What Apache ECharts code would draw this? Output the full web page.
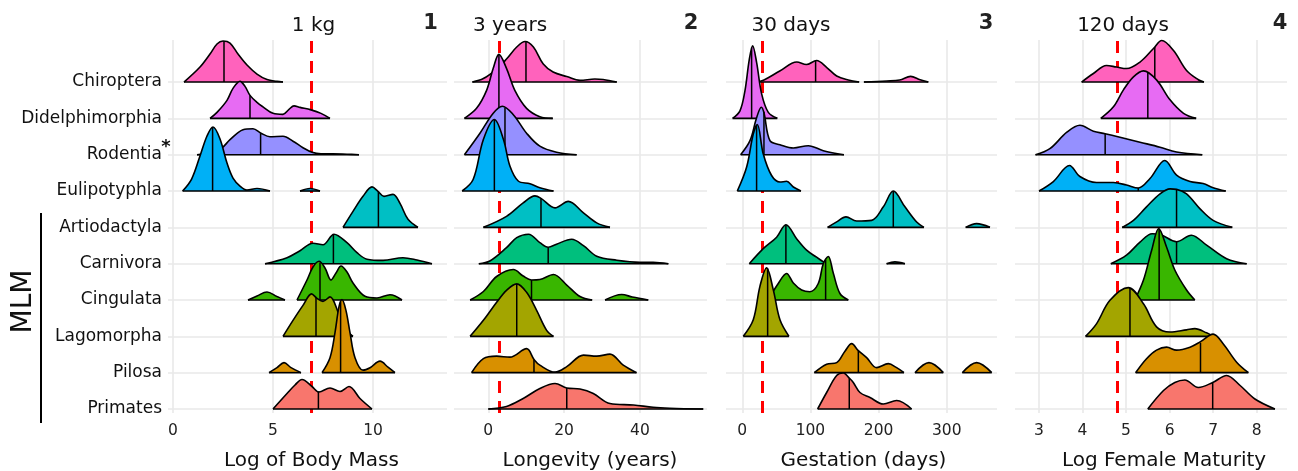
<!DOCTYPE html>
<html><head><meta charset="utf-8">
<script src="https://cdn.jsdelivr.net/npm/echarts@6/dist/echarts.min.js"></script>
<style>html,body{margin:0;padding:0;background:#fff}#c{width:1298px;height:471px}</style>
</head><body><div id="c"></div>
<script>
// ---------- data ----------
const orders = ['Chiroptera','Didelphimorphia','Rodentia','Eulipotyphla','Artiodactyla','Carnivora','Cingulata','Lagomorpha','Pilosa','Primates'];
const orderColors = ['#FF62BC','#E76BF3','#9590FF','#00B0F6','#00BFC4','#00BF7D','#39B600','#A3A500','#D89000','#F8766D'];

const axisTitles = ['Log of Body Mass','Longevity (years)','Gestation (days)','Log Female Maturity'];
const refLabels = ['1 kg','3 years','30 days','120 days'];
const refValues = [6.91, 3, 30, 4.79];
const panelNumbers = ['1','2','3','4'];

const massTicks = [0,5,10];
const lifeTicks = [0,20,40];
const gestTicks = [0,100,200,300];
const matTicks = [3,4,5,6,7,8];

// ridge outlines: [x, density height], null = gap
const massRidges = [
 [[0.55,0],[1.35,15],[1.85,28],[2.2,38],[2.5,41],[2.85,39],[3.25,28],[3.7,17],[4.2,8],[4.7,2.5],[5.2,0.7],[5.5,0]],
 [[1.85,0],[2.2,6],[2.7,18],[3.0,30],[3.35,37],[3.6,32],[3.85,23],[4.2,16],[4.5,11.5],[5.0,5],[5.5,4],[5.8,9],[6.05,12.5],[6.35,11],[6.9,8.5],[7.4,5],[7.85,0]],
 [[1.2,0],[1.8,2],[2.4,6],[2.85,15],[3.5,25],[4.0,26],[4.4,21.5],[4.85,18],[5.5,18.5],[6.0,13.5],[6.5,7],[6.95,2.5],[7.4,1],[8.0,1],[8.7,0.5],[9.3,0]],
 [[0.48,0],[0.93,12],[1.35,35],[1.7,55],[2.0,64],[2.35,52],[2.7,28],[3.0,13],[3.35,5],[3.7,1],[4.2,2.5],[4.85,0],null,[6.35,0],[6.85,2.5],[7.35,0]],
 [[8.5,0],[9.0,16],[9.5,31],[9.95,40.5],[10.25,36],[10.55,31],[11.0,33],[11.35,24],[11.75,8],[12.25,0]],
 [[4.6,0],[5.7,6],[6.35,13],[7.0,20.5],[7.5,19],[8.05,29.5],[8.7,21],[9.2,11],[9.7,4.5],[10.5,3.3],[11.5,6],[12.2,3.7],[12.95,0]],
 [[3.75,0],[4.2,4],[4.7,8],[5.2,3.5],[5.6,0],null,[6.2,0],[6.7,20],[7.0,33],[7.3,38.7],[7.6,32],[7.9,20],[8.15,27],[8.4,34],[8.7,28],[9.0,17],[9.6,3.7],[10.2,2],[10.85,5.3],[11.45,0]],
 [[5.5,0],[6.0,16],[6.5,31],[6.93,42.5],[7.2,38],[7.5,35],[7.85,39.5],[8.3,22],[8.7,6],[9.0,0]],
 [[4.8,0],[5.2,5],[5.55,10],[5.9,5],[6.4,0],null,[7.45,0],[7.85,15],[8.1,40],[8.3,66],[8.45,73],[8.65,62],[8.85,40],[9.1,15],[9.5,2.5],[9.85,5],[10.35,11.5],[10.75,5.5],[11.1,0]],
 [[5.0,0],[5.7,15.5],[6.1,24],[6.45,29.5],[6.95,22.5],[7.3,17],[7.85,21],[8.35,17.5],[8.8,22.5],[9.35,10.5],[9.95,0]]
];
const massMedX = [2.55,3.85,4.38,1.98,10.27,8.02,7.35,7.15,8.38,7.27];
const massMedH = [41,23,21.5,64,36,29.5,37.5,39,71,17.5];

const lifeRidges = [
 [[-4.2,0],[-1.3,3.5],[2.2,13],[4.8,23],[7.5,35],[9.7,40.5],[11.9,35],[14.5,18],[17.1,10],[20.7,5.5],[24.2,1.7],[28.1,3],[30.3,2.5],[33.9,0]],
 [[-6.3,0],[-3.1,10],[-0.45,28],[1.3,50],[2.8,64],[4.8,50],[7.0,28],[10.1,10],[13.6,1.7],[17.0,0]],
 [[-6.3,0],[-2.2,21.5],[1.3,41.5],[3.7,48.5],[6.6,40],[10.1,21.5],[13.6,8.5],[18,2.5],[23.3,0]],
 [[-6.9,0],[-4.0,11.5],[-1.3,51.5],[1.6,71.5],[4.0,51.5],[5.7,25],[7.9,10],[11,7.3],[13.6,3.3],[17.2,0]],
 [[-1.3,0],[4.8,11],[9.2,24.5],[12.3,31.5],[13.9,29],[17.6,19.5],[21.1,26],[25.1,14.5],[28.6,4.5],[32.1,0]],
 [[-2.5,0],[0.4,2.7],[4.8,16],[7.5,26],[10.6,29.5],[13.6,21],[15.8,16.5],[18,19.5],[22,24.5],[25.1,18],[28.6,7.5],[33.9,3.5],[40,1.5],[43.5,1.5],[47.5,0]],
 [[-4.8,0],[-1.3,8.5],[2.2,23.5],[6.6,30.5],[9.2,24],[11.4,20],[13.6,20.5],[17.2,25.5],[20.7,15],[24.2,3.5],[27.4,0],null,[30.8,0],[35.2,5.5],[38,3],[42.2,0]],
 [[-4.8,0],[-1.3,16],[2.2,34],[4.8,46],[7.5,52.5],[10.1,44],[12.75,26],[15.4,6],[17.2,0]],
 [[-4.4,0],[-1.3,14],[2.2,16.5],[5.7,15.5],[10.1,24],[12.1,13],[13.6,7.5],[17.6,0.5],[20.7,6],[25.1,17.5],[28.6,16.5],[32.1,18.5],[35.6,7.5],[39.1,0]],
 [[0,0],[4.8,2.5],[9.2,10.5],[13.6,20.5],[17.6,25.5],[20.7,21],[24.2,20],[27.7,15.5],[32.1,5.5],[38.3,4],[43.5,1.7],[47.9,0.8],[56.7,0]]
];
const lifeMedX = [9.94,2.8,4.4,1.6,13.9,15.8,11.4,7.5,12.05,20.7];
const lifeMedH = [40,64,47,71.5,29,16.5,20,52.5,13,21];

const gestRidges = [
 [[20,0],[31,1.7],[55,11],[80,20],[94,17.5],[109,21.5],[124,14.5],[138.5,6],[155.5,2],[171.5,0],null,[178.5,0],[212,1],[231,2],[247,5.7],[261,2.3],[273,0]],
 [[-14.2,0],[-3.4,7.5],[3.9,27.5],[10.3,59],[15.2,72.5],[21,56],[28.4,24.5],[38.2,6],[51.4,0]],
 [[-2.4,0],[11.3,14],[21,37],[27.9,47.5],[31.8,42],[40.6,14],[55.3,10],[74.9,6.7],[96.9,9],[118.9,4],[149.2,0]],
 [[-7.3,0],[6.4,24],[16.1,57],[22,66.5],[30.8,37],[43,15.5],[55.3,9],[65,9.7],[74.9,4],[86.1,0]],
 [[125.2,0],[138.5,5.5],[152.2,10.5],[167.8,6.3],[189.8,7],[207,20.5],[221.6,36.3],[238.7,20.5],[255.9,5.3],[266.6,0],null,[327.8,0],[343.9,3.7],[363.5,0]],
 [[10.3,0],[30.8,15],[50.4,26.5],[64,39],[79.7,25],[94.4,13.5],[109,6.5],[122.8,0],null,[211.8,0],[224,1.8],[238.7,0]],
 [[38,0],[52.8,16.5],[65,26.5],[74.9,17],[87.1,10],[99.3,8.3],[111.5,16.5],[118.9,36.5],[126.2,43.5],[133.5,27],[143.3,6.5],[155.6,0]],
 [[1.5,0],[16.1,16.5],[25.9,50],[35.7,68.5],[45.5,46.5],[55.3,16.5],[68.5,0]],
 [[105.7,0],[123.8,8.5],[138.5,10],[150.7,21.5],[160.5,29],[170.3,22],[182.5,15],[197.2,5],[214.3,9],[226.5,5],[237.3,0],null,[253.4,0],[274,10],[295,0],null,[322.9,0],[343.9,10],[366,0]],
 [[110.6,0],[123.8,16.5],[138.5,33.5],[148.3,36],[157,31],[162.9,26.5],[172.7,16.5],[187.4,11.5],[207,5],[226.5,8.5],[248.5,0]]
];
const gestMedX = [107.6,13.7,31.8,21,221.6,64,122.3,37.2,170.3,157];
const gestMedH = [21.5,71,43,66,36.3,39,40,68,22,31];

const matRidges = [
 [[3.98,0],[4.25,8.5],[4.55,16.5],[4.78,15],[5.01,13.5],[5.32,20],[5.63,33.5],[5.82,41.5],[6.09,31.5],[6.39,11.5],[6.66,2.3],[6.79,0]],
 [[4.42,0],[4.71,11.5],[4.94,28.5],[5.17,41.5],[5.4,47.5],[5.7,38.5],[6.01,18.5],[6.32,5],[6.61,0]],
 [[2.92,0],[3.25,6],[3.64,22.5],[3.94,29.5],[4.25,23.5],[4.52,21],[4.86,17.5],[5.32,12.5],[5.78,7.5],[6.16,2.7],[6.75,0]],
 [[3.0,0],[3.33,9.5],[3.7,25.5],[3.94,14.5],[4.32,8.5],[4.71,8.5],[5.01,6],[5.28,3],[5.55,12.5],[5.89,30.5],[6.16,16],[6.47,9.5],[6.77,7.5],[7.0,3.3],[7.29,0]],
 [[4.91,0],[5.17,7],[5.47,20.5],[5.78,33.5],[6.01,38.5],[6.16,38],[6.39,33.5],[6.7,18.5],[7.0,7],[7.44,0]],
 [[4.65,0],[5.01,8.5],[5.32,21.5],[5.6,30],[5.8,29],[6.16,22],[6.5,28.5],[6.85,18.5],[7.31,5],[7.77,0]],
 [[5.2,0],[5.4,20],[5.59,50],[5.75,71.5],[5.93,53],[6.12,30],[6.39,10],[6.58,0]],
 [[4.07,0],[4.32,12.5],[4.63,36],[5.05,48.7],[5.4,32.5],[5.7,9.5],[6.01,4.3],[6.39,6.5],[6.58,7.7],[6.85,3.5],[7.0,0]],
 [[5.22,0],[5.47,14],[5.7,22.5],[5.93,25.5],[6.16,22.5],[6.47,25.5],[6.71,31],[7.0,38.5],[7.23,29],[7.54,10.5],[7.81,0]],
 [[5.5,0],[5.86,18.5],[6.12,26.5],[6.35,29],[6.66,21.5],[6.99,26.5],[7.31,33.5],[7.62,23.5],[7.96,10],[8.42,0]]
];
const matMedX = [5.66,5.5,4.52,5.28,6.16,6.16,5.76,5.09,6.71,6.99];
const matMedH = [35,46,21,3,38,22,71,48,30,26.5];

// ---------- layout ----------
const ROW = 36.33;
const FONT = '"DejaVu Sans", sans-serif';
const panelLayout = [
  {left:168, right:447, min:-0.25, max:13.7},
  {left:454, right:707, min:-9.05, max:57.7},
  {left:726, right:997, min:-23.9, max:373.8},
  {left:1015, right:1287, min:2.449, max:8.697}
];
const panelData = [
  {ridges:massRidges, medX:massMedX, medH:massMedH, ticks:massTicks},
  {ridges:lifeRidges, medX:lifeMedX, medH:lifeMedH, ticks:lifeTicks},
  {ridges:gestRidges, medX:gestMedX, medH:gestMedH, ticks:gestTicks},
  {ridges:matRidges, medX:matMedX, medH:matMedH, ticks:matTicks}
];
const titleX = [311.5, 590, 863.5, 1164];
const refLabelX = [313.5, 510, 791, 1123];
const numberX = [430.5, 691, 986, 1280];

const baseOf = i => (orders.length - 1 - i) * ROW;
const bases = orders.map((_, i) => baseOf(i));
const gridColor = '#e9e9e9';

const grids = [], xAxes = [], yAxes = [], series = [];
panelLayout.forEach((L, p) => {
  grids.push({left: L.left, width: L.right - L.left, top: 40, height: 373, outerBoundsMode: 'none'});
  xAxes.push({
    type: 'value', gridIndex: p, min: L.min, max: L.max,
    axisLine: {show: false},
    axisTick: {show: false, customValues: panelData[p].ticks},
    axisLabel: {customValues: panelData[p].ticks, fontSize: 15.5, fontFamily: FONT, color: '#222', margin: 10, lineHeight: 16},
    splitLine: {show: true, lineStyle: {color: gridColor, width: 1.6}}
  });
  yAxes.push({
    type: 'value', gridIndex: p, min: -4, max: 369,
    axisLine: {show: false},
    axisTick: {show: false, customValues: bases},
    axisLabel: p === 0 ? {
      customValues: bases, fontSize: 17, fontFamily: FONT, color: '#111', margin: 6,
      verticalAlign: 'middle', padding: [0, 0, 18, 0],
      formatter: v => orders[Math.round(orders.length - 1 - v / ROW)]
    } : {show: false},
    splitLine: {show: true, lineStyle: {color: gridColor, width: 1.6}}
  });
  // reference dashed line (under ridges)
  series.push({
    type: 'line', xAxisIndex: p, yAxisIndex: p, data: [], z: 5, silent: true,
    markLine: {silent: true, symbol: ['none','none'], label: {show: false}, animation: false,
      lineStyle: {color: '#ff0000', type: [12, 8], width: 3}, data: [{xAxis: refValues[p]}]}
  });
  const D = panelData[p];
  D.ridges.forEach((pts, i) => {
    const b = baseOf(i);
    const segs = []; let cur = [];
    pts.forEach(pt => { if (pt === null) { if (cur.length) segs.push(cur); cur = []; } else cur.push(pt); });
    if (cur.length) segs.push(cur);
    segs.forEach(seg => {
      series.push({
        type: 'line', xAxisIndex: p, yAxisIndex: p, z: 10 + i, silent: true, clip: false,
        data: seg.map(([x, h]) => [x, b + h]),
        smooth: 0.35, symbol: 'none',
        lineStyle: {color: '#000', width: 1.6},
        areaStyle: {color: orderColors[i], opacity: 1, origin: b}
      });
      series.push({
        type: 'line', xAxisIndex: p, yAxisIndex: p, z: 10 + i, silent: true, clip: false,
        data: [[seg[0][0], b], [seg[seg.length - 1][0], b]], symbol: 'none',
        lineStyle: {color: '#000', width: 1.6}
      });
    });
    series.push({
      type: 'line', xAxisIndex: p, yAxisIndex: p, z: 10 + i, silent: true, clip: false,
      data: [[D.medX[i], b], [D.medX[i], b + D.medH[i]]], symbol: 'none',
      lineStyle: {color: '#000', width: 1.5}
    });
  });
});

const graphics = [];
axisTitles.forEach((t, p) => graphics.push({type: 'text', x: titleX[p], y: 461, silent: true,
  style: {text: t, font: '20px ' + FONT, fill: '#111', align: 'center', verticalAlign: 'middle'}}));
refLabels.forEach((t, p) => graphics.push({type: 'text', x: refLabelX[p], y: 26, silent: true,
  style: {text: t, font: '20px ' + FONT, fill: '#111', align: 'center', verticalAlign: 'middle'}}));
panelNumbers.forEach((t, p) => graphics.push({type: 'text', x: numberX[p], y: 24, silent: true,
  style: {text: t, font: 'bold 21px ' + FONT, fill: '#222', align: 'center', verticalAlign: 'middle'}}));
graphics.push({type: 'text', x: 23.3, y: 301.5, rotation: Math.PI / 2, silent: true,
  style: {text: 'MLM', font: '28px ' + FONT, fill: '#111', align: 'center', verticalAlign: 'middle'}});
graphics.push({type: 'text', x: 166, y: 147, silent: true,
  style: {text: '*', font: 'bold 18px ' + FONT, fill: '#111', align: 'center', verticalAlign: 'middle'}});
graphics.push({type: 'line', silent: true, shape: {x1: 41, y1: 213, x2: 41, y2: 423}, style: {stroke: '#000', lineWidth: 2}});

const chart = echarts.init(document.getElementById('c'), null, {renderer: 'canvas'});
chart.setOption({
  animation: false,
  backgroundColor: '#fff',
  grid: grids, xAxis: xAxes, yAxis: yAxes, series: series, graphic: graphics
});
</script>
</body></html>
